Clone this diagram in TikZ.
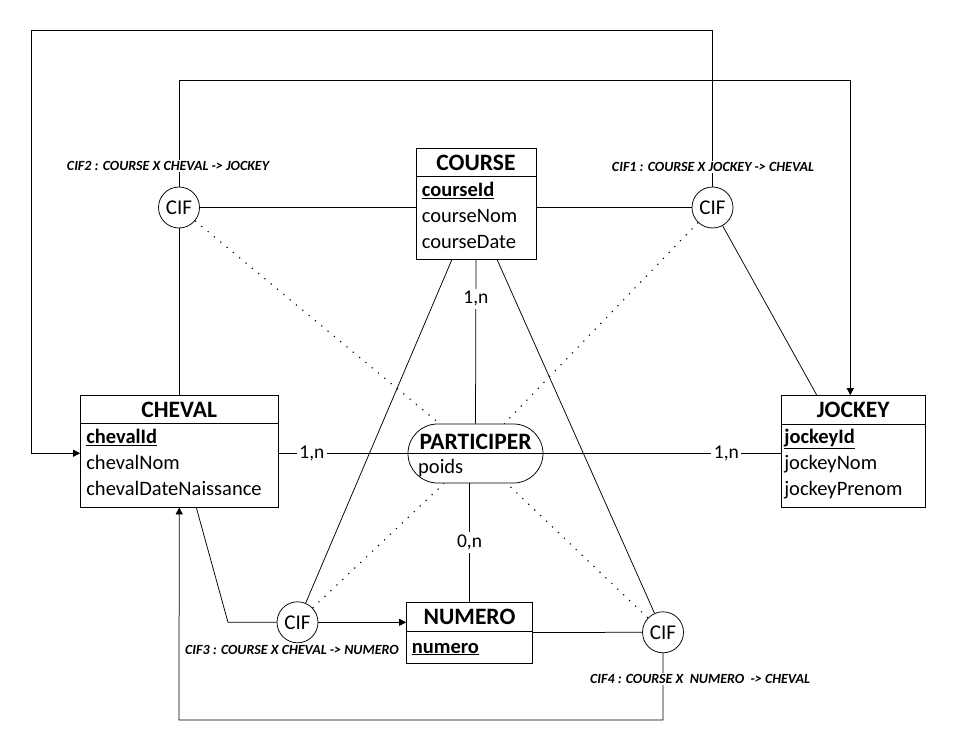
\documentclass[tikz,border=0pt]{standalone}
\usepackage{fontspec}
\setmainfont{Carlito}
\usepackage{tikz}
\usetikzlibrary{arrows.meta,shapes.misc,positioning,calc}
\tikzset{
  entity/.style={draw, rectangle, line width=0.75pt, inner sep=0pt},
  relation/.style={draw, rounded rectangle, line width=0.75pt, inner sep=0pt},
  cif/.style={draw, circle, line width=0.75pt, minimum size=41pt, inner sep=0pt, font=\fontsize{21}{24}\selectfont},
  etitle/.style={font=\fontsize{23.5}{28}\selectfont\bfseries, inner sep=0pt},
  attrs/.style={font=\fontsize{20.5}{26}\selectfont, align=left, anchor=north west, inner sep=0pt},
  card/.style={font=\fontsize{19.5}{22}\selectfont, fill=white, inner sep=2.5pt},
  ciflabel/.style={font=\fontsize{14}{16}\selectfont\bfseries\itshape, fill=white, inner sep=1.5pt},
  link/.style={line width=0.75pt},
  dep/.style={line width=1.1pt, dash pattern=on 1.2pt off 7pt}
}
\begin{document}
\begin{tikzpicture}[x=1pt, y=-1pt, >={Triangle[length=7pt,width=7pt]}]
        \useasboundingbox (0,0) rectangle (961,752);

        % Entities
        \node[entity, minimum width=120pt, minimum height=111pt] (course) at (476,203.5) {};
        \node[etitle] (courseT) at ($(course.north)+(0,15)$) {COURSE};
        \draw[link] ($(course.north west)+(0,28.5)$) -- ($(course.north east)+(0,28.5)$);
        \node[attrs] (courseA) at ($(course.north west)+(6,30.3)$) {\strut\underline{\textbf{courseId}}\\courseNom\\courseDate};

        \node[entity, minimum width=197.5pt, minimum height=111.5pt] (cheval) at (179.25,451.25) {};
        \node[etitle] (chevalT) at ($(cheval.north)+(0,15.2)$) {CHEVAL};
        \draw[link] ($(cheval.north west)+(0,28.5)$) -- ($(cheval.north east)+(0,28.5)$);
        \node[attrs] (chevalA) at ($(cheval.north west)+(6,30.3)$) {\strut\underline{\textbf{chevalId}}\\chevalNom\\chevalDateNaissance};

        \node[entity, minimum width=143.5pt, minimum height=111.5pt] (jockey) at (853.25,451.25) {};
        \node[etitle] (jockeyT) at ($(jockey.north)+(0,15.2)$) {JOCKEY};
        \draw[link] ($(jockey.north west)+(0,28.8)$) -- ($(jockey.north east)+(0,28.8)$);
        \node[attrs] (jockeyA) at ($(jockey.north west)+(3,30.3)$) {\strut\underline{\textbf{jockeyId}}\\jockeyNom\\jockeyPrenom};

        \node[entity, minimum width=126pt, minimum height=61pt] (numero) at (469.5,632.5) {};
        \node[etitle] (numeroT) at ($(numero.north)+(0,15.3)$) {NUMERO};
        \draw[link] ($(numero.north west)+(0,30)$) -- ($(numero.north east)+(0,30)$);
        \node[attrs] (numeroA) at ($(numero.north west)+(5.5,33)$) {\strut\underline{\textbf{numero}}};

        % Association
        \node[relation, minimum width=135pt, minimum height=59pt] (participer) at (475.5,453.5) {};
        \node[etitle] (participerT) at ($(participer.center)+(0,-12)$) {PARTICIPER};
        \draw[link] (participer.west) -- (participer.east);
        \node[font=\fontsize{20.5}{26}\selectfont, anchor=base west, inner sep=0pt] (participerA) at ($(participer.center)+(-57.5,19.5)$) {poids};

        % CIF circles
        \node[cif] (cif2) at (179,207.5) {CIF};
        \node[cif] (cif1) at (712.5,207.5) {CIF};
        \node[cif] (cif3) at (297.5,622.3) {CIF};
        \node[cif] (cif4) at (663,632.3) {CIF};

        % Cardinalities
        \draw[link] (course.south) -- node[card, pos=0.24] (cardCourse) {1,n} (participer.north);
        \draw[link] (cheval.east |- participer.west) -- node[card, pos=0.26] (cardCheval) {1,n} (participer.west);
        \draw[link] (participer.east) -- node[card, pos=0.77] (cardJockey) {1,n} (participer.east -| jockey.west);
        \draw[link] (participer.south -| numero.north) -- node[card] (cardNumero) {0,n} (numero.north);

        % CIF legs
        \draw[link] (cif2) -- (cif2 -| course.west);
        \draw[link] (cif1 -| course.east) -- (cif1);
        \draw[link] (cif2) -- (cif2 |- cheval.north);
        \draw[link] (cif1) -- ($(jockey.north)+(-36.5,0)$);
        \draw[link] ($(course.south)+(-24,0)$) -- (cif3);
        \draw[link] ($(course.south)+(21,0)$) -- (cif4);
        \coordinate (bend3) at (228,622.3);
        \draw[link] ($(cheval.south)+(17,0)$) -- (bend3) -- (cif3.west);
        \draw[link] (numero.east) -- (cif4.west);

        % CIF targets
        \coordinate (top2) at (179,80);
        \draw[link,->] (cif2.north) -- (top2) -| ($(jockey.north)+(-3,0)$);
        \coordinate (top1) at (31.5,30.5);
        \draw[link,->] (cif1.north) |- (top1) |- ($(cheval.west)+(0,2)$);
        \coordinate (bottom4) at (179,720);
        \draw[link,->] (cif4.south) |- (bottom4) -- (cheval.south);
        \draw[link,->] (cif3.east) -- (cif3.east -| numero.west);

        % Dotted links to the association
        \draw[dep] (cif2) -- (participer);
        \draw[dep] (cif1) -- (participer);
        \draw[dep] (cif3) -- (participer);
        \draw[dep] (cif4) -- (participer);

        % CIF labels
        \node[ciflabel] (cif2L) at (168,166) {CIF2 : COURSE X CHEVAL -> JOCKEY};
        \node[ciflabel] (cif1L) at (713,167) {CIF1 : COURSE X JOCKEY -> CHEVAL};
        \node[ciflabel] (cif3L) at (292,650) {CIF3 : COURSE X CHEVAL -> NUMERO};
        \node[ciflabel] (cif4L) at (700,679) {CIF4 : COURSE X\ \ NUMERO\ \ -> CHEVAL};
    \end{tikzpicture}
\end{document}
